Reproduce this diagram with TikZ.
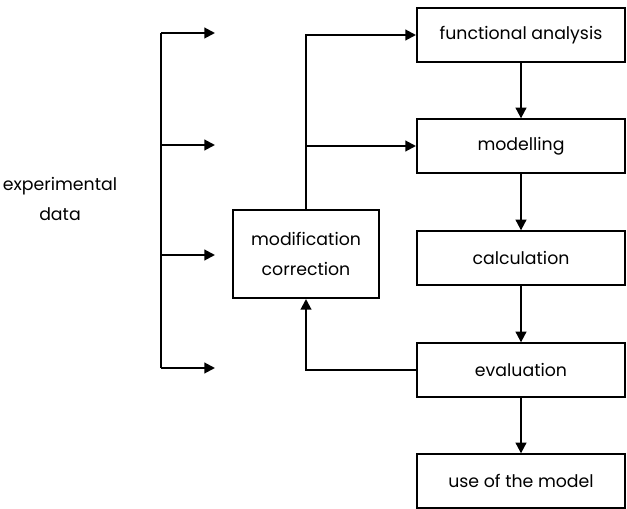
\documentclass[tikz,border=0pt]{standalone}
\usepackage{fontspec}
\setmainfont{Poppins}
\usetikzlibrary{arrows.meta}
\tikzset{
  box/.style={draw,line width=1.5pt,minimum width=156pt,minimum height=40pt,inner sep=0pt},
  flow/.style={line width=1.5pt,-{Triangle[length=8pt,width=8pt]}}
}
\begin{document}
\begin{tikzpicture}[x=0.75pt,y=-0.75pt,font=\fontsize{13}{22}\selectfont]
  \useasboundingbox (0,0) rectangle (627,509);
  % main chain
  \node[box] (fa) at (521,35) {functional analysis};
  \node[box] (mo) at (521,146) {modelling};
  \node[box] (ca) at (521,258) {calculation};
  \node[box] (ev) at (521,370) {evaluation};
  \node[box] (us) at (521,481) {use of the model};
  \foreach \a/\b in {fa/mo,mo/ca,ca/ev,ev/us} {\draw[flow] (\a) -- (\b);}
  % feedback
  \node[box,minimum width=110pt,minimum height=66pt,align=center] (mc) at (306,254) {modification\\correction};
  \draw[flow] (mc.north) |- (fa.west);
  \draw[flow] (mc.north |- mo.west) -- (mo.west);
  \draw[flow] (ev.west) -| (mc.south);
  % experimental data
  \node[align=center] (ex) at (60,199) {experimental\\data};
  \coordinate (top) at (161,33);
  \coordinate (bot) at (161,368);
  \draw[line width=1.5pt] (top) -- (bot);
  \foreach \y [count=\i] in {33,145,255,368} {
    \coordinate (d\i) at (215,\y);
    \draw[flow] (top |- d\i) -- (d\i);
  }
\end{tikzpicture}
\end{document}
